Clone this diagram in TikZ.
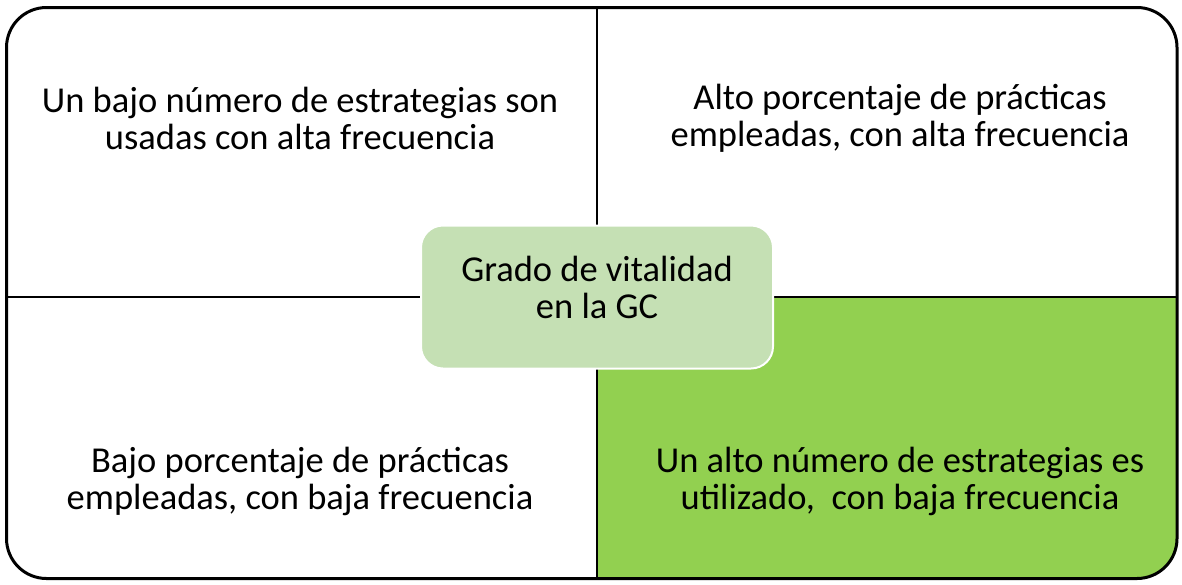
\documentclass[tikz,border=0pt]{standalone}
\usepackage{fontspec}
\setmainfont{Carlito}
\definecolor{quadgreen}{HTML}{92D050}
\definecolor{centergreen}{HTML}{C5E0B4}
\begin{document}
\begin{tikzpicture}[x=1pt,y=-1pt]
\useasboundingbox (0,0) rectangle (1182,584);
\tikzset{quad/.style={align=center, font=\fontsize{36.5}{37}\selectfont, inner sep=0pt}}

\begin{scope}
\clip[rounded corners=40pt] (6.5,7.5) rectangle (1177,578.5);
\fill[quadgreen] (597,297) rectangle (1182,584);
\end{scope}

\draw[line width=2.5pt] (597,7.5) -- (597,578.5);
\draw[line width=2.5pt] (6.5,297) -- (1177,297);
\draw[line width=3pt, rounded corners=40pt] (6.5,7.5) rectangle (1177,578.5);

\node[quad] (tl) at (300,118) {Un bajo número de estrategias son\\usadas con alta frecuencia};

\node[quad] (tr) at (900,118) {Alto porcentaje de prácticas\\empleadas, con alta frecuencia};

\node[quad] (bl) at (300,481) {Bajo porcentaje de prácticas\\empleadas, con baja frecuencia};

\node[quad] (br) at (900,481) {Un alto número de estrategias es\\utilizado,\ \ con baja frecuencia};

\node[draw=white, line width=2pt, fill=centergreen, rounded corners=22pt, minimum width=352pt, minimum height=143pt] (c) at (597,297) {};
\node[quad] (ct) at ([yshift=10pt]c.center) {Grado de vitalidad\\en la GC};
\end{tikzpicture}
\end{document}
